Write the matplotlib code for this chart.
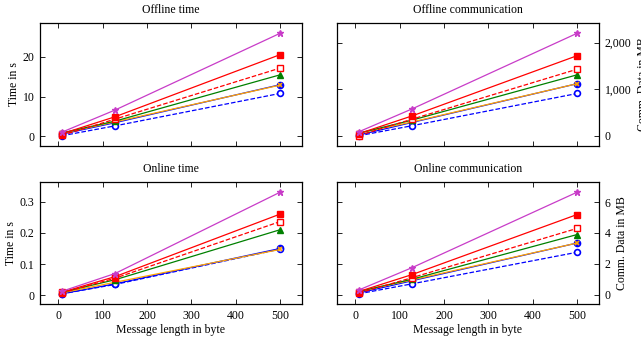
import matplotlib
matplotlib.use("Agg")
import matplotlib.pyplot as plt
from matplotlib.ticker import FuncFormatter, MultipleLocator

plt.rcParams['font.family'] = ['Liberation Serif', 'DejaVu Serif']
plt.rcParams['font.size'] = 8.5

msg_len = [8, 128, 500]

# series order: star, filled square, open square, triangle, filled circle, x (orange), open circle dashed
offline_time = {
    "star": [1.0, 6.6, 26.0],
    "sq": [0.6, 4.9, 20.6],
    "osq": [0.2, 4.3, 17.2],
    "tri": [0.8, 3.8, 15.5],
    "circ": [0.5, 3.4, 13.0],
    "x": [0.7, 3.6, 12.9],
    "ocirc": [0.1, 2.6, 10.8],
}
offline_comm = {
    "star": [90, 580, 2200],
    "sq": [50, 430, 1720],
    "osq": [10, 360, 1430],
    "tri": [60, 340, 1310],
    "circ": [20, 290, 1120],
    "x": [60, 300, 1120],
    "ocirc": [5, 220, 910],
}
online_time = {
    "star": [0.013, 0.070, 0.330],
    "sq": [0.010, 0.060, 0.260],
    "osq": [0.008, 0.055, 0.236],
    "tri": [0.010, 0.050, 0.210],
    "circ": [0.005, 0.037, 0.150],
    "x": [0.008, 0.042, 0.147],
    "ocirc": [0.005, 0.035, 0.148],
}
online_comm = {
    "star": [0.30, 1.75, 6.65],
    "sq": [0.20, 1.30, 5.20],
    "osq": [0.10, 1.10, 4.30],
    "tri": [0.20, 1.00, 3.90],
    "circ": [0.10, 0.90, 3.35],
    "x": [0.20, 0.95, 3.35],
    "ocirc": [0.05, 0.70, 2.75],
}

styles = {
    "star": dict(color='#c83cc8', marker='*', ls='-', ms=5, mfc='#c83cc8'),
    "sq": dict(color='#ff0000', marker='s', ls='-', ms=4.5, mfc='#ff0000'),
    "osq": dict(color='#ff0000', marker='s', ls='--', ms=4.5, mfc='white'),
    "tri": dict(color='#008000', marker='^', ls='-', ms=4.5, mfc='#008000'),
    "circ": dict(color='#0000ff', marker='o', ls='-', ms=4.5, mfc='#0000ff'),
    "x": dict(color='#ffa500', marker='x', ls='-', ms=3.5, mfc='#ffa500', mew=1.2),
    "ocirc": dict(color='#0000ff', marker='o', ls='--', ms=4.2, mfc='white', mew=1.2),
}
order = ["circ", "ocirc", "x", "tri", "osq", "sq", "star"]

fig = plt.figure(figsize=(6.41, 3.43), dpi=100)
W, H = 641, 343
boxes = [
    (40, 23, 302, 146),
    (337, 23, 599, 146),
    (40, 182, 302, 304),
    (337, 182, 599, 304),
]
datas = [offline_time, offline_comm, online_time, online_comm]
titles = ["Offline time", "Offline communication", "Online time", "Online communication"]

for i, (box, data, title) in enumerate(zip(boxes, datas, titles)):
    x0, y0, x1, y1 = box
    ax = fig.add_axes([x0 / W, 1 - y1 / H, (x1 - x0) / W, (y1 - y0) / H])
    for k in order:
        st = dict(styles[k])
        ax.plot(msg_len, data[k], lw=0.9, mew=st.pop('mew', 1.0), **st)
    ax.margins(x=0.1, y=0.1)
    ax.set_xlim(-41.2, 549.2)
    ax.xaxis.set_major_locator(MultipleLocator(100))
    ax.tick_params(direction='in', top=True, right=True, left=True, bottom=True,
                   length=3.5, width=0.6, labelsize=8.5, pad=4)
    for sp in ax.spines.values():
        sp.set_linewidth(0.9)
    ax.set_title(title, fontsize=8.5, pad=7)
    if i < 2:
        ax.tick_params(labelbottom=False)
    else:
        ax.set_xlabel("Message length in byte", fontsize=8.5, labelpad=2)
    if i % 2 == 1:
        ax.yaxis.tick_right()
        ax.tick_params(direction='in', left=True, right=True)
        ax.yaxis.set_label_position('right')
        ax.set_ylabel("Comm. Data in MB", fontsize=8.5, labelpad=4)
    else:
        ax.set_ylabel("Time in s", fontsize=8.5, labelpad=2)
    if i == 0:
        ax.yaxis.set_major_locator(MultipleLocator(10))
    elif i == 1:
        ax.yaxis.set_major_locator(MultipleLocator(1000))
        ax.yaxis.set_major_formatter(FuncFormatter(lambda v, p: f"{int(v):,}"))
    elif i == 2:
        ax.yaxis.set_major_locator(MultipleLocator(0.1))
        ax.yaxis.set_major_formatter(FuncFormatter(lambda v, p: "0" if abs(v) < 1e-9 else f"{v:.1f}"))
    else:
        ax.yaxis.set_major_locator(MultipleLocator(2))

fig.savefig("out.png", dpi=100)
